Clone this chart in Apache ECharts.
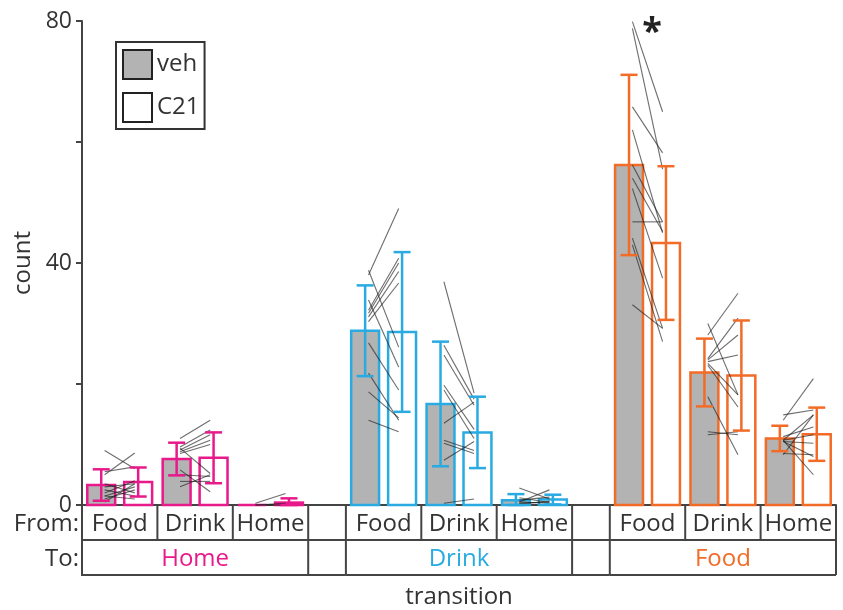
<!DOCTYPE html>
<html>
<head>
<meta charset="utf-8">
<script src="https://cdn.jsdelivr.net/npm/echarts@6/dist/echarts.min.js"></script>
<style>
  html, body { margin: 0; padding: 0; background: #fff; }
  #chart { width: 843px; height: 610px; }
</style>
</head>
<body>
<div id="chart"></div>
<script>
// Transition counts: "from" location (inner row) grouped by "to" location (outer row)
const fromLabels = ['Food', 'Drink', 'Home'];
const toLabels = ['Home', 'Drink', 'Food'];
const toColors = ['#e8198b', '#29abe2', '#f26b27'];

// group means and error (one entry per from/to cell, groups in toLabels order)
const vehMean = [3.3, 7.6, 0, 28.8, 16.7, 0.8, 56.2, 21.9, 11.0];
const vehErr  = [2.6, 2.7, 0, 7.5, 10.3, 1.0, 14.9, 5.6, 2.1];
const c21Mean = [3.8, 7.8, 0.4, 28.6, 12.0, 0.9, 43.3, 21.4, 11.7];
const c21Err  = [2.4, 4.2, 0.7, 13.2, 5.9, 0.8, 12.7, 9.1, 4.4];

// individual animals: [veh, C21]
const toHomeFromFood = [[9.0, 6.0], [5.0, 8.6], [5.5, 6.3], [3.0, 3.5], [2.0, 4.0], [1.5, 3.0],
                        [1.0, 2.5], [0.5, 3.5], [2.5, 1.5], [3.5, 2.0], [1.5, 1.0]];
const toHomeFromDrink = [[11.0, 14.0], [9.6, 12.4], [9.1, 11.6], [8.8, 10.7], [9.4, 5.2],
                         [5.8, 2.2], [5.0, 4.7], [3.9, 3.9], [3.0, 5.0], [8.5, 10.0]];
const toHomeFromHome = [[0.3, 1.9], [0, 0], [0, 0.3]];
const toDrinkFromFood = [[38.0, 49.0], [32.2, 40.8], [31.7, 40.0], [31.1, 38.6], [30.3, 36.7],
                         [38.8, 26.1], [33.9, 22.8], [26.8, 19.0], [21.8, 14.0], [18.7, 14.4], [14.0, 12.1]];
const toDrinkFromDrink = [[36.9, 18.5], [26.4, 17.5], [24.8, 16.5], [19.8, 12.5], [19.0, 11.0],
                          [13.5, 17.0], [10.7, 9.0], [10.2, 8.5], [7.4, 10.5], [0.3, 1.0]];
const toDrinkFromHome = [[2.8, 1.0], [0.5, 2.5], [0.8, 1.3], [0.3, 0.5], [0.2, 0.6], [0.5, 0.3], [1.2, 0.4]];
const toFoodFromFood = [[79.9, 65.0], [78.8, 55.5], [65.8, 58.2], [62.0, 45.0], [56.2, 46.8], [54.0, 45.2],
                        [52.3, 37.5], [46.8, 46.8], [44.1, 29.2], [43.0, 27.0], [33.1, 29.2]];
const toFoodFromDrink = [[28.1, 35.0], [24.2, 30.9], [24.0, 28.1], [23.7, 24.8], [30.0, 18.2],
                         [23.4, 18.2], [23.1, 16.2], [17.9, 8.3], [12.1, 11.6], [11.6, 12.1]];
const toFoodFromHome = [[14.0, 20.9], [14.9, 15.7], [10.7, 14.9], [11.3, 12.9], [10.7, 11.6],
                        [10.5, 10.2], [8.3, 14.9], [10.7, 5.0], [10.5, 8.0], [8.5, 8.3]];
const animals = [toHomeFromFood, toHomeFromDrink, toHomeFromHome,
                 toDrinkFromFood, toDrinkFromDrink, toDrinkFromHome,
                 toFoodFromFood, toFoodFromDrink, toFoodFromHome];

// significance marks per cell
const sigMarks = ['', '', '', '', '', '', '*', '', ''];

const yTicks = [0, 40, 80];

// ---- layout helpers (x axis in "cell" units) ----
const GROUP_GAP = 0.5;
const X_MAX = toLabels.length * fromLabels.length + (toLabels.length - 1) * GROUP_GAP;
const BAR_OFF = 0.245, BAR_W = 0.37, PAIR_HALF = 0.2, CAP_PX = 17;
const groupStart = g => g * (fromLabels.length + GROUP_GAP);
const cellCenter = i => groupStart(Math.floor(i / fromLabels.length)) + (i % fromLabels.length) + 0.5;
const groupOf = i => Math.floor(i / fromLabels.length);

const FONT = '"Open Sans", "Liberation Sans", sans-serif';
const INK = '#333';
const TXT = 24;

const vehData = vehMean.map((v, i) => [cellCenter(i), v, groupOf(i)]);
const c21Data = c21Mean.map((v, i) => [cellCenter(i), v, groupOf(i)]);
const errData = [];
vehMean.forEach((v, i) => errData.push([cellCenter(i) - BAR_OFF, v, vehErr[i], groupOf(i)]));
c21Mean.forEach((v, i) => errData.push([cellCenter(i) + BAR_OFF, v, c21Err[i], groupOf(i)]));
const pairData = [];
animals.forEach((list, i) => list.forEach(p => pairData.push([cellCenter(i), p[0], p[1]])));
const sigData = sigMarks.map((s, i) => [cellCenter(i), 0, i]).filter(d => sigMarks[d[2]]);
const groupData = toLabels.map((t, g) => [groupStart(g), 0, g]);

function barRenderer(fill, sign) {
  return function (params, api) {
    const x = api.value(0) + sign * BAR_OFF;
    const top = api.coord([x, api.value(1)]);
    const base = api.coord([x, 0]);
    const w = api.size([BAR_W, 0])[0];
    return {
      type: 'rect',
      shape: { x: top[0] - w / 2, y: top[1], width: w, height: base[1] - top[1] },
      style: { fill: fill, stroke: toColors[api.value(2)], lineWidth: 2.5 }
    };
  };
}

function errRenderer(params, api) {
  const x = api.value(0), m = api.value(1), e = api.value(2);
  if (!e) return null;
  const hi = api.coord([x, m + e]);
  const lo = api.coord([x, Math.max(0, m - e)]);
  const st = { stroke: toColors[api.value(3)], lineWidth: 2.5 };
  return {
    type: 'group',
    children: [
      { type: 'line', shape: { x1: hi[0], y1: hi[1], x2: lo[0], y2: lo[1] }, style: st },
      { type: 'line', shape: { x1: hi[0] - CAP_PX / 2, y1: hi[1], x2: hi[0] + CAP_PX / 2, y2: hi[1] }, style: st },
      { type: 'line', shape: { x1: lo[0] - CAP_PX / 2, y1: lo[1], x2: lo[0] + CAP_PX / 2, y2: lo[1] }, style: st }
    ]
  };
}

function pairRenderer(params, api) {
  const x = api.value(0);
  const a = api.coord([x - PAIR_HALF, api.value(1)]);
  const b = api.coord([x + PAIR_HALF, api.value(2)]);
  return {
    type: 'line',
    shape: { x1: a[0], y1: a[1], x2: b[0], y2: b[1] },
    style: { stroke: 'rgba(30,30,30,0.65)', lineWidth: 1.1 }
  };
}

function sigRenderer(params, api) {
  const p = api.coord([api.value(0) + 0.06, 80]);
  return {
    type: 'text',
    style: { text: sigMarks[api.value(2)], x: p[0], y: p[1] - 6, align: 'center', verticalAlign: 'top',
             fontSize: 36, fontWeight: 'bold', fontFamily: FONT, fill: '#222' }
  };
}

// category table under the axis: "From" row and "To" row
const ROW_H = 35;
const TEXT_DROP = 2;
function tableRenderer(params, api) {
  const g = api.value(2);
  const n = fromLabels.length;
  const x0 = api.coord([groupStart(g), 0]);
  const x1 = api.coord([groupStart(g) + n, 0]);
  const base = x0[1];
  const yMid = base + ROW_H, yBot = base + 2 * ROW_H;
  const ls = { stroke: '#444', lineWidth: 2 };
  const children = [];
  // horizontal rules, carried across the gap to the next group
  const xEnd = g < toLabels.length - 1 ? api.coord([groupStart(g + 1), 0])[0] : x1[0];
  const xStart = g === 0 ? x0[0] - 1 : x0[0];
  children.push({ type: 'line', shape: { x1: xStart, y1: yMid, x2: xEnd, y2: yMid }, style: ls });
  children.push({ type: 'line', shape: { x1: xStart, y1: yBot, x2: xEnd, y2: yBot }, style: ls });
  // group borders
  children.push({ type: 'line', shape: { x1: x0[0], y1: base, x2: x0[0], y2: yBot }, style: ls });
  children.push({ type: 'line', shape: { x1: x1[0], y1: base, x2: x1[0], y2: yBot }, style: ls });
  const rowText = (text, x, y, align, fill) => ({
    type: 'text',
    style: { text: text, x: x, y: y + TEXT_DROP, align: align, verticalAlign: 'middle',
             fontSize: TXT, fontFamily: FONT, fill: fill }
  });
  for (let k = 0; k < n; k++) {
    const c = api.coord([groupStart(g) + k + 0.5, 0])[0];
    if (k > 0) {
      const d = api.coord([groupStart(g) + k, 0])[0];
      children.push({ type: 'line', shape: { x1: d, y1: base, x2: d, y2: yMid }, style: ls });
    }
    children.push(rowText(fromLabels[k], c, base + ROW_H / 2, 'center', INK));
  }
  children.push(rowText(toLabels[g], (x0[0] + x1[0]) / 2, yMid + ROW_H / 2, 'center', toColors[g]));
  if (g === 0) {
    children.push(rowText('From:', x0[0] - 3, base + ROW_H / 2, 'right', INK));
    children.push(rowText('To:', x0[0] - 3, yMid + ROW_H / 2, 'right', INK));
  }
  return { type: 'group', children: children };
}

const chart = echarts.init(document.getElementById('chart'), null, { renderer: 'canvas' });
chart.setOption({
  animation: false,
  backgroundColor: '#fff',
  grid: { left: 82, right: 7, top: 21, bottom: 105, outerBoundsMode: 'none', containLabel: false },
  legend: {
    orient: 'vertical',
    left: 116, top: 42,
    padding: [7, 5, 6, 6],
    itemGap: 12,
    itemWidth: 29, itemHeight: 29,
    borderColor: '#333', borderWidth: 2,
    selectedMode: false,
    textStyle: { fontSize: 24, fontFamily: FONT, color: INK },
    data: [
      { name: 'veh', icon: 'rect', itemStyle: { color: '#b3b3b3', borderColor: '#222', borderWidth: 2 } },
      { name: 'C21', icon: 'rect', itemStyle: { color: '#fff', borderColor: '#222', borderWidth: 2 } }
    ]
  },
  xAxis: {
    type: 'value', min: 0, max: X_MAX,
    name: 'transition', nameLocation: 'middle', nameGap: 80,
    nameTextStyle: { fontSize: TXT, fontFamily: FONT, color: INK },
    axisLine: { show: true, lineStyle: { color: '#444', width: 2 } },
    axisTick: { show: false }, axisLabel: { show: false }, splitLine: { show: false }
  },
  yAxis: {
    type: 'value', min: 0, max: 80, interval: 20,
    name: 'count', nameLocation: 'middle', nameGap: 41,
    nameTextStyle: { fontSize: TXT, fontFamily: FONT, color: INK },
    axisLine: { show: true, lineStyle: { color: '#444', width: 2 } },
    axisTick: { show: true, length: 6, lineStyle: { color: '#444', width: 2 } },
    axisLabel: { fontSize: 23, fontFamily: FONT, color: INK, margin: 10, padding: [5, 0, 0, 0],
                 formatter: v => (yTicks.indexOf(v) >= 0 ? String(v) : '') },
    splitLine: { show: false }
  },
  series: [
    { type: 'custom', name: 'veh', renderItem: barRenderer('#b3b3b3', -1), data: vehData, clip: false,
      itemStyle: { color: '#b3b3b3', borderColor: '#222', borderWidth: 2 }, z: 2 },
    { type: 'custom', name: 'C21', renderItem: barRenderer('#ffffff', 1), data: c21Data, clip: false,
      itemStyle: { color: '#fff', borderColor: '#222', borderWidth: 2 }, z: 2 },
    { type: 'custom', name: 'animals', renderItem: pairRenderer, data: pairData, clip: false, z: 3 },
    { type: 'custom', name: 'sem', renderItem: errRenderer, data: errData, clip: false, z: 4 },
    { type: 'custom', name: 'sig', renderItem: sigRenderer, data: sigData, clip: false, z: 4 },
    { type: 'custom', name: 'table', renderItem: tableRenderer, data: groupData, clip: false, z: 1 }
  ]
});
</script>
</body>
</html>
